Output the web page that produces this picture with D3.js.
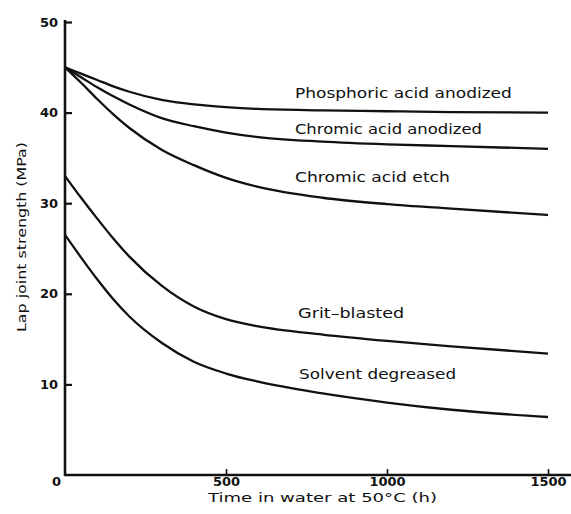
<!DOCTYPE html>
<html><head><meta charset="utf-8">
<script src="https://cdn.jsdelivr.net/npm/d3@7"></script>
<style>
html,body{margin:0;padding:0;background:#fff;}
text{font-family:"DejaVu Sans",sans-serif;fill:#111;}
</style></head>
<body>
<svg id="chart" width="571" height="514"></svg>
<script>
const hours = [0, 50, 100, 150, 200, 300, 400, 500, 600, 800, 1000, 1200, 1500];
const seriesNames = ["Phosphoric acid anodized", "Chromic acid anodized", "Chromic acid etch", "Grit\u2013blasted", "Solvent degreased"];
const phosphoric = [45, 44.3, 43.6, 42.9, 42.3, 41.4, 40.9, 40.6, 40.4, 40.25, 40.15, 40.05, 40.0];
const chromicAnodized = [45, 43.9, 42.8, 41.8, 40.9, 39.4, 38.5, 37.8, 37.3, 36.8, 36.5, 36.3, 36.0];
const chromicEtch = [45, 43.3, 41.5, 39.8, 38.3, 35.9, 34.2, 32.8, 31.8, 30.6, 29.9, 29.4, 28.7];
const gritBlasted = [33, 30.6, 28.3, 26.1, 24.1, 20.9, 18.6, 17.2, 16.4, 15.5, 14.8, 14.2, 13.4];
const solvent = [26.5, 24.0, 21.6, 19.4, 17.5, 14.6, 12.5, 11.2, 10.3, 9.0, 8.0, 7.2, 6.4];
const xTicks = [0, 500, 1000, 1500];
const yTicks = [10, 20, 30, 40, 50];
// label anchor (time, strength) for each curve label
const labelTime = [714, 714, 714, 724, 727];
const labelValue = [41.6, 37.6, 32.3, 17.3, 10.6];

const allSeries = [phosphoric, chromicAnodized, chromicEtch, gritBlasted, solvent];

const svg = d3.select("#chart");
const x = d3.scaleLinear().domain([0, 1500]).range([65, 548]);
const y = d3.scaleLinear().domain([0, 50]).range([475, 22]);

const line = d3.line()
  .x((d, i) => x(hours[i]))
  .y(d => y(d))
  .curve(d3.curveMonotoneX);

svg.append("g").selectAll("path").data(allSeries).join("path")
  .attr("d", d => line(d))
  .attr("fill", "none")
  .attr("stroke", "#111")
  .attr("stroke-width", 2.3);

// y axis
const gy = svg.append("g").attr("transform", `translate(${x(0)},0)`)
  .call(d3.axisLeft(y).tickValues(yTicks).tickSize(-7).tickSizeOuter(0).tickPadding(7).tickFormat(d3.format("d")));
gy.select(".domain").remove();
gy.selectAll("line").attr("stroke", "#111").attr("stroke-width", 2.2);
gy.selectAll("text").attr("font-size", 13).attr("font-weight", "bold")
  .style("font-family", '"DejaVu Sans",sans-serif').attr("fill", "#111");

// x axis
const gx = svg.append("g").attr("transform", `translate(0,${y(0)})`)
  .call(d3.axisBottom(x).tickValues(xTicks).tickSize(-6).tickSizeOuter(0).tickPadding(2).tickFormat(d3.format("d")));
gx.select(".domain").remove();
gx.selectAll("line").attr("stroke", "#111").attr("stroke-width", 1.6);
gx.selectAll("text").attr("font-size", 13).attr("font-weight", "bold")
  .style("font-family", '"DejaVu Sans",sans-serif').attr("fill", "#111");
gx.selectAll(".tick").filter(d => d === 0).select("text").attr("x", -9);
gx.selectAll(".tick").filter(d => d === 0).select("line").remove();

// axis lines
svg.append("line").attr("x1", x(0)).attr("x2", x(0)).attr("y1", y(0) + 1).attr("y2", y(50) - 2)
  .attr("stroke", "#111").attr("stroke-width", 2.6);
svg.append("line").attr("x1", x(0) - 1).attr("x2", x.range()[1] + 23).attr("y1", y(0)).attr("y2", y(0))
  .attr("stroke", "#111").attr("stroke-width", 2.6);

// curve labels
const labelWidths = [217, 187, 155, 106, 157];
svg.append("g").selectAll("text").data(seriesNames).join("text")
  .attr("x", (d, i) => x(labelTime[i]))
  .attr("y", (d, i) => y(labelValue[i]))
  .attr("font-size", 14)
  .attr("textLength", (d, i) => labelWidths[i])
  .attr("lengthAdjust", "spacingAndGlyphs")
  .text(d => d);

// axis titles
svg.append("text").attr("x", (x(0) + x(1500)) / 2 + 16).attr("y", 502)
  .attr("text-anchor", "middle").attr("font-size", 12.5)
  .attr("textLength", 229).attr("lengthAdjust", "spacingAndGlyphs")
  .text("Time in water at 50\u00b0C  (h)");
svg.append("text").attr("transform", "translate(26,237) rotate(-90)")
  .attr("text-anchor", "middle").attr("font-size", 13)
  .attr("textLength", 190).attr("lengthAdjust", "spacingAndGlyphs")
  .text("Lap joint strength  (MPa)");
</script>
</body></html>
